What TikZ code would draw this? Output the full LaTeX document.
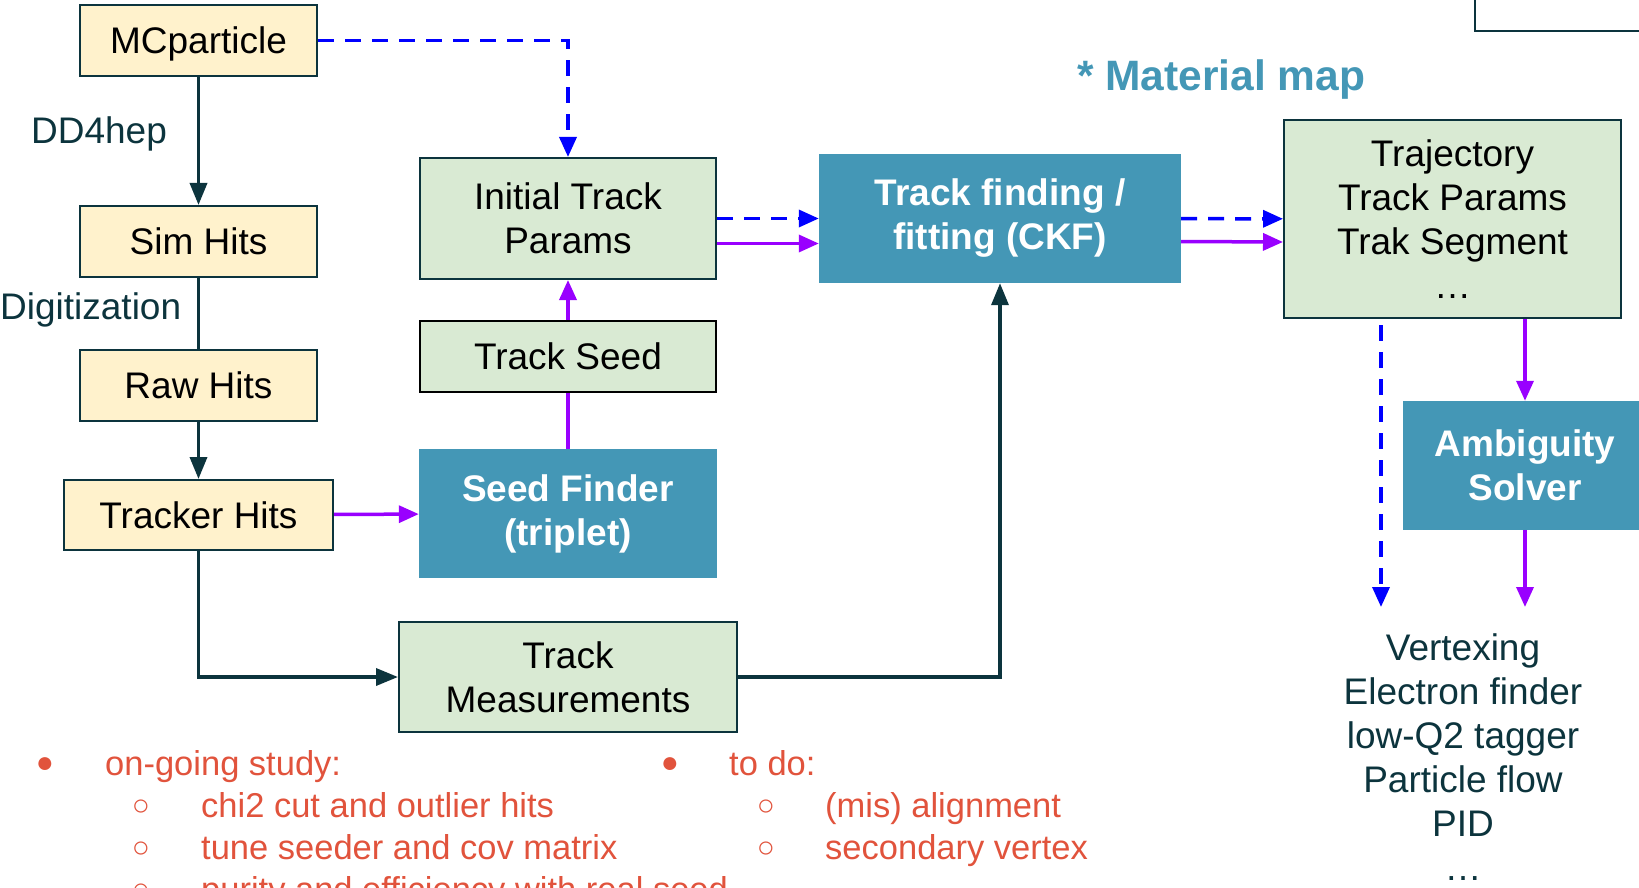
\documentclass[tikz,border=0pt]{standalone}
\usepackage{fontspec}
\setmainfont{Liberation Sans}
\usetikzlibrary{arrows.meta}
\definecolor{mcyellow}{HTML}{FFF2CC}
\definecolor{boxgreen}{HTML}{D9EAD3}
\definecolor{algblue}{HTML}{4497B6}
\definecolor{darkcyan}{HTML}{0C343D}
\definecolor{purp}{HTML}{9900FF}
\definecolor{notered}{HTML}{E1533C}

\begin{document}
\begin{tikzpicture}[x=1pt,y=-1pt,
  every node/.style={font=\fontsize{37}{44}\selectfont,align=center,inner sep=0pt},
  inbox/.style={draw=darkcyan,line width=2pt,fill=mcyellow,minimum width=237pt,minimum height=71pt,text depth=0pt},
  databox/.style={draw=darkcyan,line width=2pt,fill=boxgreen},
  algbox/.style={fill=algblue,text=white,font=\fontsize{37}{44}\selectfont\bfseries},
  flow/.style={darkcyan,line width=3.5pt,-{Triangle[length=22pt,width=17pt]}},
  seedflow/.style={purp,line width=3.5pt,-{Triangle[length=20pt,width=17pt]}},
  truth/.style={blue,line width=3.5pt,dash pattern=on 16pt off 11pt,-{Triangle[length=20pt,width=17pt]}},
  note/.style={text=notered,font=\fontsize{34.5}{43}\selectfont,anchor=base west},
  dot/.style={text=notered,font=\fontsize{30}{36}\selectfont}]
  \useasboundingbox (0,0) rectangle (1639,888);
  \draw[darkcyan,line width=2pt] (1475,31) rectangle (1680,-20);

  \node[inbox] (mcp) at (198.5,40.5) {MCparticle};
  \node[inbox] (simhits) at (198.5,241.5) {Sim Hits};
  \node[inbox] (rawhits) at (198.5,385.5) {Raw Hits};
  \node[inbox,minimum width=269pt,minimum height=70pt] (trkhits) at (198.5,515) {Tracker Hits};
  \node[databox,minimum width=296pt,minimum height=121pt] (initpar) at (568,218.5) {Initial Track\\Params};
  \node[databox,draw=black,minimum width=296pt,minimum height=71pt] (seed) at (568,356.5) {Track Seed};
  \node[algbox,minimum width=298pt,minimum height=129pt] (finder) at (568,513.5) {Seed Finder\\(triplet)\vphantom{S}};
  \node[databox,minimum width=338pt,minimum height=110pt] (meas) at (568,677) {Track\\Measurements};
  \node[algbox,minimum width=362pt,minimum height=129pt] (ckf) at (1000,218.5) {Track finding /\\fitting (CKF)};
  \node[databox,minimum width=337pt,minimum height=198pt] (traj) at (1452.5,219) {Trajectory\\Track Params\\Trak Segment\\…};
  \node[algbox,minimum width=244pt,minimum height=129pt] (ambig) at (1525,465.5) {Ambiguity\\Solver};

  \node[text=darkcyan,anchor=base] (dd4hep) at (99,144) {DD4hep};
  \node[text=darkcyan,anchor=base west] (digi) at (0,319) {Digitization};
  \node[text=algblue,anchor=base west,font=\fontsize{42.5}{50}\selectfont\bfseries] (matmap) at (1077,91) {* Material map};
  \node[text=darkcyan,anchor=north] (users) at (1463,633.5) {Vertexing\\Electron finder\\low-Q2 tagger\\Particle flow\\PID\\…};

  \draw[flow] (mcp) -- (simhits);
  \draw[darkcyan,line width=3.5pt] (simhits) -- (rawhits);
  \draw[flow] (rawhits) -- (trkhits);
  \draw[seedflow] (trkhits) -- (finder);
  \draw[flow] (trkhits) |- (meas);
  \draw[flow] (meas) -| (ckf);
  \draw[purp,line width=3.5pt] (finder) -- (seed);
  \draw[seedflow] (seed) -- (initpar);
  \draw[truth] (mcp) -| (initpar);
  \draw[truth] (initpar) -- (ckf);
  \draw[seedflow] ([yshift=-25pt]initpar.east) -- ([yshift=-25pt]ckf.west);
  \draw[truth] (ckf) -- (traj);
  \draw[seedflow] ([yshift=-23pt]ckf.east) -- ([yshift=-23pt]traj.west);
  \coordinate (vtxend) at (1381,607);
  \coordinate (pidend) at (1525,607);
  \draw[truth] ([yshift=-6pt]traj.south -| vtxend) -- (vtxend);
  \draw[seedflow] (traj.south -| ambig.north) -- (ambig);
  \draw[seedflow] (ambig) -- (pidend);

  \node[dot] (dota) at (45,765) {●};
  \node[note] (study) at (105,775) {on-going study:};
  \node[dot] (circa) at (141,808) {○};
  \node[note] (chi) at (201,817) {chi2 cut and outlier hits};
  \node[dot] (circb) at (141,850) {○};
  \node[note] (tune) at (201,859) {tune seeder and cov matrix};
  \node[dot] (circc) at (141,892) {○};
  \node[note] (purity) at (201,901) {purity and efficiency with real seed};
  \node[dot] (dotb) at (670,765) {●};
  \node[note] (todo) at (729,775) {to do:};
  \node[dot] (circd) at (766,808) {○};
  \node[note] (mis) at (825,817) {(mis) alignment};
  \node[dot] (circe) at (766,850) {○};
  \node[note] (sec) at (825,859) {secondary vertex};
\end{tikzpicture}
\end{document}
